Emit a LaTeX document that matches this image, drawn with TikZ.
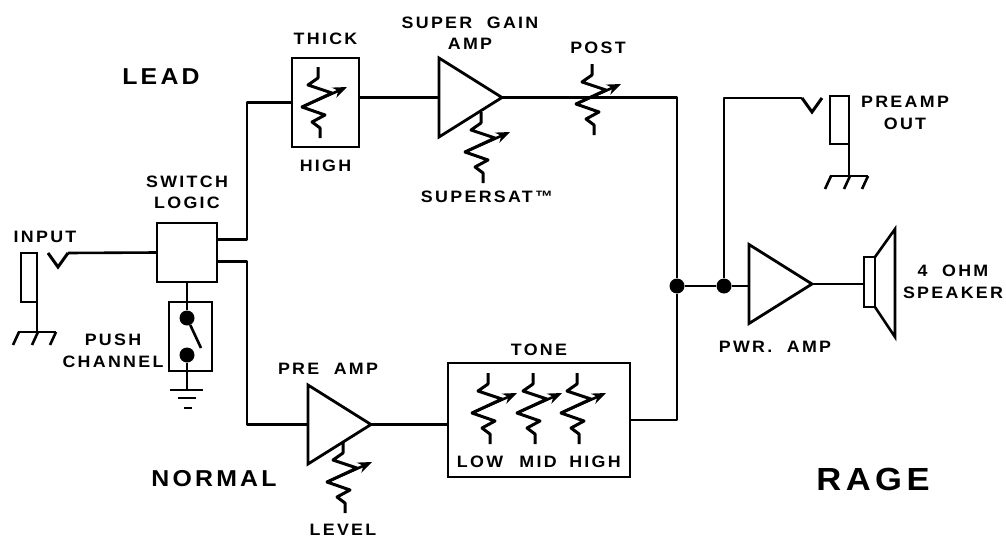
\documentclass[tikz,border=0pt]{standalone}
\usepackage{fontspec}
\usetikzlibrary{arrows.meta,positioning,shapes.geometric}
\newfontfamily\lblfont[LetterSpace=14,FakeStretch=1.08]{Liberation Sans}
\tikzset{
  wire/.style={line width=2.6pt, line join=round},
  blk/.style={draw, line width=2.6pt, inner sep=0pt, outer sep=0pt, fill=white},
  amp/.style={draw, line width=2.8pt, isosceles triangle, isosceles triangle stretches, shape border rotate=0,
    inner sep=0pt, outer sep=0pt, minimum height=63pt, minimum width=79pt, anchor=west},
  dot/.style={circle, fill=black, inner sep=0pt, minimum size=15pt},
  lbl/.style={inner sep=0pt, align=center, font=\lblfont\bfseries\fontsize{16.5}{21.5}\selectfont},
  big/.style={inner sep=0pt, font=\lblfont\bfseries\fontsize{23}{24}\selectfont},
  pics/pot/.style={code={
    \draw[line width=3pt, line join=round] (-2,-36) coordinate (-top) -- (-2,-25) -- (-12,-18) -- (12,-10) -- (-18,4)
      -- (5,12) -- (-8,19) -- (0,25) -- (0,35) coordinate (-bot);
    \draw[line width=2.6pt, -{Stealth[length=14pt,width=11pt]}] (-18,4) -- (27,-16);}},
  pics/plug/.style={code={
    \draw[line width=3pt] (-10,0) coordinate (-l) -- (0,14) -- (10,0) coordinate (-r);}},
  pics/chassis/.style={code={
    \coordinate (-top) at (0,0);
    \draw[wire] (-19,0) -- (19,0);
    \draw[wire] (-18,0) -- (-24,13) (1,0) -- (-5,13) (19,0) -- (13,13);}},
  pics/earth/.style={code={
    \coordinate (-top) at (0,0);
    \draw[wire] (-17,0) -- (16,0) (-9,8) -- (9,8) (-3,18) -- (5,18);}}
}
\begin{document}
\begin{tikzpicture}[x=1pt, y=-1pt]
  \useasboundingbox (0,0) rectangle (1006,538);
  % input side
  \node[blk, minimum width=16pt, minimum height=49pt] (injack) at (29,277.5) {};
  \pic (inplug) at (58,253) {plug};
  \pic (ingnd) at (37,332) {chassis};
  \node[blk, minimum width=60pt, minimum height=59pt] (logic) at (187,252.5) {};
  \node[blk, minimum width=43pt, minimum height=69pt] (push) at (190.5,336.5) {};
  \node[dot] (swtop) at (187,318) {};
  \node[dot] (swbot) at (187,355) {};
  \coordinate (swarm) at (201,348);
  \pic (swgnd) at (187,390) {earth};
  % lead channel
  \node[blk, minimum width=67pt, minimum height=89pt] (thick) at (325.5,102.5) {};
  \node[amp] (superamp) at (439,97.5) {};
  \pic (thickpot) at (320,103) {pot};
  \pic (satpot) at (483,148) {pot};
  \pic (postpot) at (594,100) {pot};
  % normal channel
  \node[amp] (preamp) at (308,424.5) {};
  \node[blk, minimum width=182pt, minimum height=114pt] (tone) at (539,420) {};
  \pic (levelpot) at (345,478) {pot};
  \pic (lowpot) at (490,409) {pot};
  \pic (midpot) at (535,409) {pot};
  \pic (highpot) at (579,409) {pot};
  % power stage
  \node[dot] (mix) at (677,286) {};
  \node[dot] (split) at (724,286) {};
  \node[amp] (pwramp) at (749,284) {};
  \node[blk, minimum width=11pt, minimum height=50pt] (spk) at (869.5,282) {};
  \coordinate (coneup) at (895,229);
  \coordinate (conedn) at (895,337);
  \pic (outplug) at (812,98) {plug};
  \node[blk, minimum width=19pt, minimum height=48pt] (outjack) at (839.5,120) {};
  \pic (outgnd) at (849,176) {chassis};
  % wiring
  \draw[wire] (injack.north east) -- (ingnd-top);
  \draw[wire] (inplug-r) -- (logic.west);
  \draw[wire] ([yshift=13pt]logic.east) -- ++(30,0) |- (thick.west);
  \draw[wire] ([yshift=-9pt]logic.east) -- ++(30,0) |- (preamp.west);
  \draw[wire] (logic.south -| swtop) -- (swtop);
  \draw[wire] (swtop) -- (swarm);
  \draw[wire] (swbot) -- (swgnd-top);
  \draw[wire] (superamp.west -| thick.east) -- (superamp.west);
  \draw[wire] (superamp.east) -| (mix);
  \draw[wire] (preamp.east) -- (preamp.east -| tone.west);
  \draw[wire] (tone.east) -| (mix);
  \draw[wire] (mix) -- (split) -- (pwramp.west |- split);
  \draw[wire] (split) |- (outplug-l);
  \draw[wire] (outjack.north east) -- (outgnd-top);
  \draw[wire] (pwramp.east) -- (spk.west |- pwramp.east);
  \draw[blk, fill=none] (spk.north east) -- (coneup) -- (conedn) -- (spk.south east);
  % labels
  \node[lbl] (inputl) at (45,237) {INPUT};
  \node[lbl, above=14pt of logic] (logicl) {SWITCH\\LOGIC};
  \node[lbl] (pushl) at (113,351) {PUSH\\CHANNEL};
  \node[lbl, above=13pt of thick] (thickl) {THICK};
  \node[lbl, below=13pt of thick] (highl) {HIGH};
  \node[lbl] (superl) at (470,33) {SUPER\ \ GAIN\\AMP};
  \node[lbl] (postl) at (598,48) {POST};
  \node[lbl] (satl) at (487,197) {SUPERSAT™};
  \node[lbl] (prel) at (328,369) {PRE\ \ AMP};
  \node[lbl] (levell) at (343,530) {LEVEL};
  \node[lbl, above=7pt of tone] (tonel) {TONE};
  \node[lbl] (lowl) at (480,462) {LOW};
  \node[lbl] (midl) at (538,462) {MID};
  \node[lbl] (hil) at (595,462) {HIGH};
  \node[lbl] (outl) at (905,113) {PREAMP\\OUT};
  \node[lbl] (pwrl) at (775,347) {PWR.\ \ AMP};
  \node[lbl] (spkl) at (953,282) {4\ \ OHM\\SPEAKER};
  \node[big] (leadl) at (161,77) {LEAD};
  \node[big] (norml) at (214,479) {NORMAL};
  \node[big, font=\lblfont\bfseries\fontsize{32}{36}\selectfont] (ragel) at (873,479) {RAGE};
\end{tikzpicture}
\end{document}
